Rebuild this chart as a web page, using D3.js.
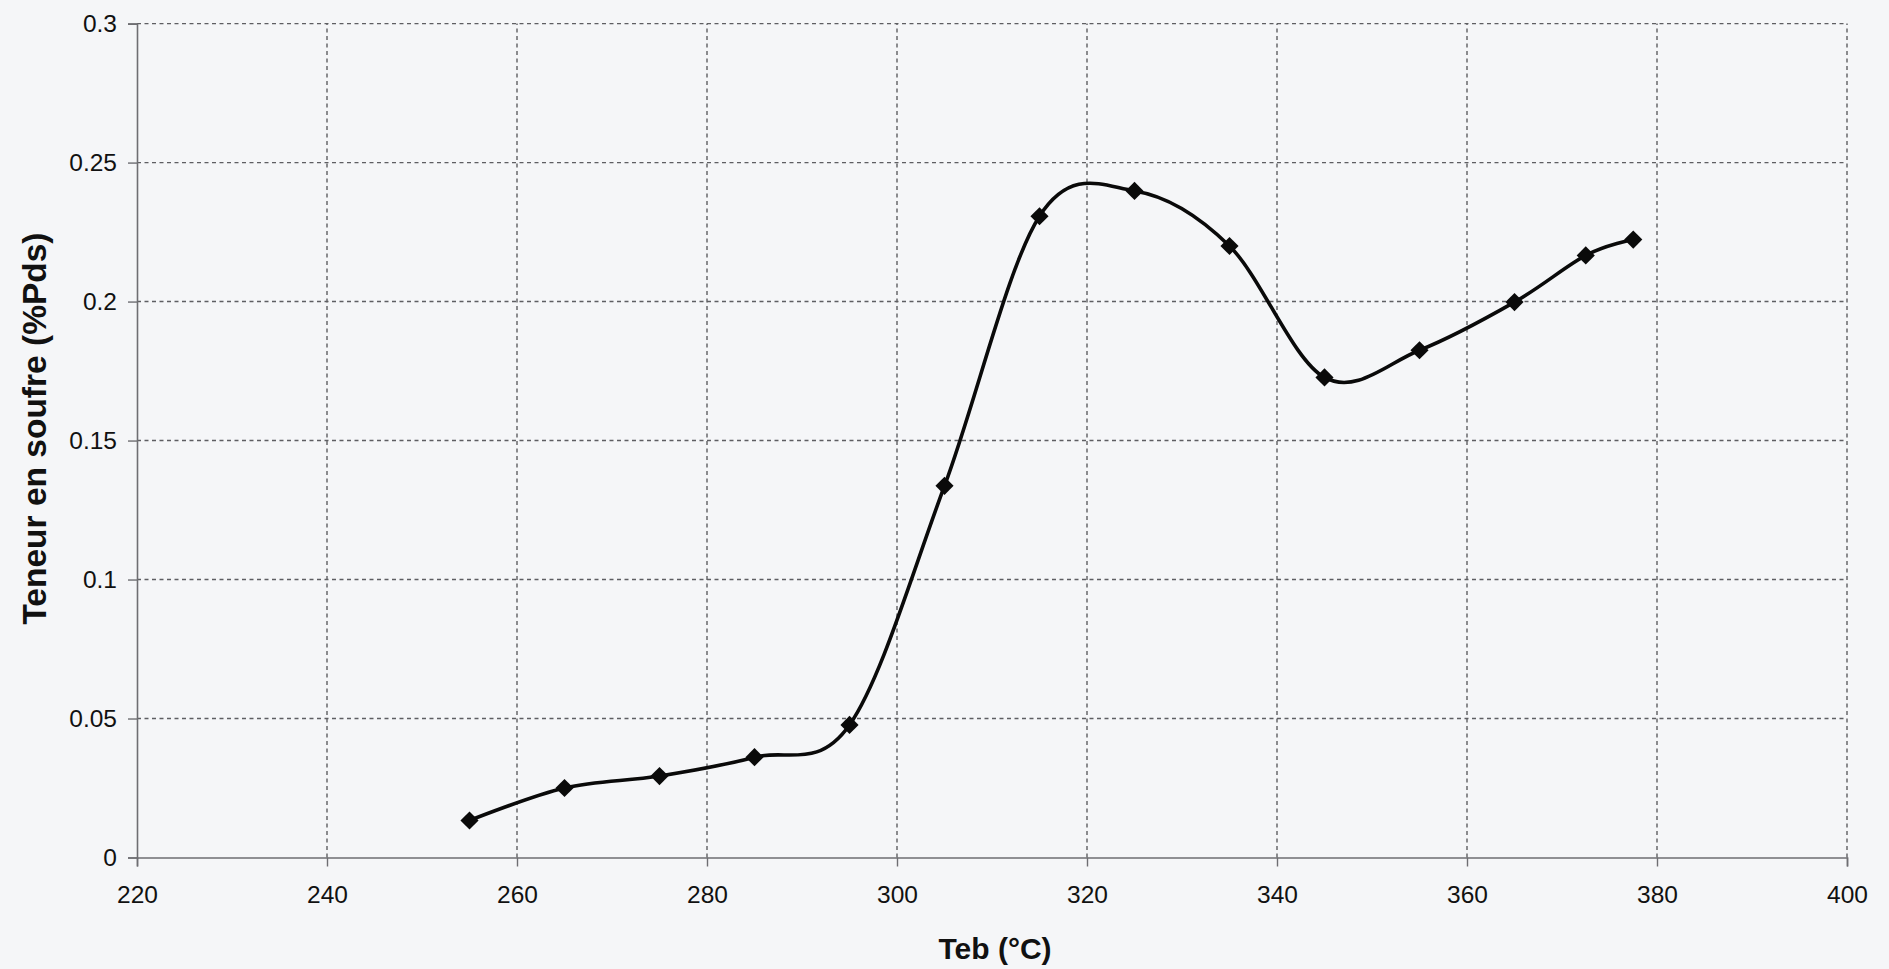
<!DOCTYPE html>
<html>
<head>
<meta charset="utf-8">
<script src="https://cdn.jsdelivr.net/npm/d3@7"></script>
<style>
  html, body { margin: 0; padding: 0; background: #f5f6f8; }
  svg { display: block; }
  text { font-family: "Liberation Sans", Arial, sans-serif; fill: #111; }
</style>
</head>
<body>
<svg id="chart" width="1889" height="969"></svg>
<script>
// ---- data ----
const temperatures = [255, 265, 275, 285, 295, 305, 315, 325, 335, 345, 355, 365, 372.5, 377.5];
const sulfurContent = [0.0133, 0.025, 0.0293, 0.0361, 0.0477, 0.1337, 0.2307, 0.2398, 0.2200, 0.1727, 0.1825, 0.1998, 0.2166, 0.2223];
const xTicks = [220, 240, 260, 280, 300, 320, 340, 360, 380, 400];
const yTicks = [0, 0.05, 0.1, 0.15, 0.2, 0.25, 0.3];
const xTitle = "Teb (°C)";
const yTitle = "Teneur en soufre (%Pds)";

const points = temperatures.map((t, i) => ({ x: t, y: sulfurContent[i] }));

const svg = d3.select("#chart");
const margin = { left: 137, top: 23.6, right: 1889 - 1847, bottom: 969 - 857.5 };
const W = 1889, H = 969;

const x = d3.scaleLinear().domain([220, 400]).range([margin.left, W - margin.right]);
const y = d3.scaleLinear().domain([0, 0.3]).range([H - margin.bottom, margin.top]);

// grid
const grid = svg.append("g");
grid.selectAll("line.h").data(yTicks.filter(d => d > 0)).join("line")
  .attr("x1", x(220)).attr("x2", x(400))
  .attr("y1", d => y(d)).attr("y2", d => y(d))
  .attr("stroke", "#5e5e62").attr("stroke-width", 1.4)
  .attr("stroke-dasharray", "4,3.5");
grid.selectAll("line.v").data(xTicks.filter(d => d > 220)).join("line")
  .attr("x1", d => x(d)).attr("x2", d => x(d))
  .attr("y1", y(0)).attr("y2", y(0.3))
  .attr("stroke", "#5e5e62").attr("stroke-width", 1.4)
  .attr("stroke-dasharray", "4,3.5");

// axes
const xAxis = d3.axisBottom(x).tickValues(xTicks).tickSize(9).tickPadding(12)
  .tickFormat(d3.format("d"));
const yAxis = d3.axisLeft(y).tickValues(yTicks).tickSize(9).tickPadding(11)
  .tickFormat(d => d === 0 ? "0" : String(d));

const gx = svg.append("g").attr("transform", `translate(0,${y(0)})`).call(xAxis);
const gy = svg.append("g").attr("transform", `translate(${x(220)},0)`).call(yAxis);
[gx, gy].forEach(g => {
  g.select(".domain").attr("stroke", "#6e6e72").attr("stroke-width", 1.6);
  g.selectAll(".tick line").attr("stroke", "#6e6e72").attr("stroke-width", 1.4);
  g.selectAll(".tick text").attr("font-size", 24.5)
    .attr("font-family", "'Liberation Sans', Arial, sans-serif").attr("fill", "#111");
});
gx.selectAll(".tick text").attr("dy", "0.98em");

// line
const line = d3.line().x(d => x(d.x)).y(d => y(d.y)).curve(d3.curveCardinal.tension(0));
svg.append("path").datum(points)
  .attr("d", line)
  .attr("fill", "none").attr("stroke", "#0a0a0a").attr("stroke-width", 3.6);

// markers
svg.selectAll("path.m").data(points).join("path")
  .attr("d", d3.symbol().type(d3.symbolSquare).size(165))
  .attr("transform", d => `translate(${x(d.x)},${y(d.y)}) rotate(45)`)
  .attr("fill", "#0a0a0a");

// titles
svg.append("text")
  .attr("x", (x(220) + x(400)) / 2 + 3).attr("y", 959)
  .attr("text-anchor", "middle").attr("font-weight", "bold").attr("font-size", 30)
  .text(xTitle);
svg.append("text")
  .attr("transform", `translate(46,${(y(0) + y(0.3)) / 2 - 12}) rotate(-90)`)
  .attr("text-anchor", "middle").attr("font-weight", "bold").attr("font-size", 33.5)
  .text(yTitle);
</script>
</body>
</html>
